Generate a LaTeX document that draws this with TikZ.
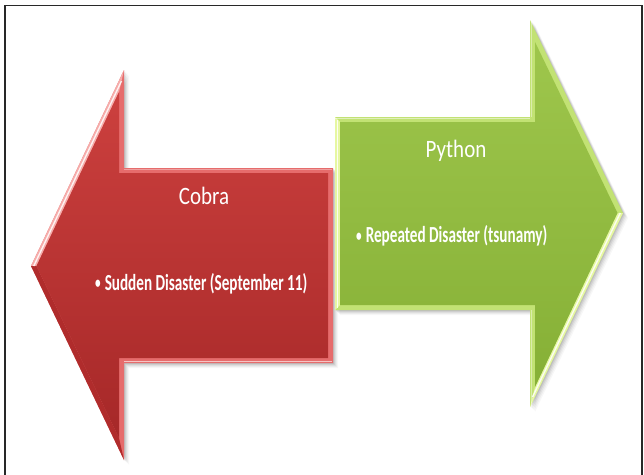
\documentclass[tikz,border=0pt]{standalone}
\usepackage{fontspec}
\usepackage{graphicx}
\usetikzlibrary{calc}
\setmainfont{Carlito}
\definecolor{redtop}{RGB}{204,64,62}
\definecolor{redbot}{RGB}{166,40,40}
\definecolor{redband}{RGB}{230,108,108}
\definecolor{redlight}{RGB}{246,172,170}
\definecolor{reddark}{RGB}{176,44,44}
\definecolor{greentop}{RGB}{158,198,76}
\definecolor{greenbot}{RGB}{134,176,54}
\definecolor{greenband}{RGB}{194,226,116}
\definecolor{greenlight}{RGB}{230,247,162}
\definecolor{framegray}{RGB}{40,40,40}
\tikzset{
  label text/.style={inner sep=0pt, text=white},
  title text/.style={label text, anchor=base, font=\fontsize{25}{30}\selectfont},
  item text/.style={label text, anchor=base west, font=\fontsize{23}{28}\selectfont\bfseries},
  shine/.style={white, line width=1.4pt, opacity=0.85, line join=round}
}
\newcommand{\titlebox}[1]{\scalebox{0.84}[1]{#1}}
\newcommand{\itembox}[1]{\scalebox{0.66}[1]{{\fontsize{17}{17}\selectfont\raisebox{1.5pt}{\textbullet}}\hspace{6pt}#1}}
\begin{document}
\begin{tikzpicture}[x=1pt,y=-1pt]
\useasboundingbox (0,0) rectangle (644,474);
\fill[white] (0,0) rectangle (644,474);
% outer frame (open at the bottom edge of the page)
\draw[framegray, line width=1.5pt] (5,480) -- (5,5.5) -- (642,5.5) -- (642,480);

% ---------------- red arrow pointing left ----------------
\coordinate (r1) at (31,266);   \coordinate (r2) at (124,70);
\coordinate (r3) at (124,168);  \coordinate (r4) at (333,168);
\coordinate (r5) at (333,363);  \coordinate (r6) at (124,363);
\coordinate (r7) at (124,460);
% bevel inset
\coordinate (q1) at (36.5,266); \coordinate (q2) at (119,92);
\coordinate (q3) at (119,173);  \coordinate (q4) at (328,173);
\coordinate (q5) at (328,358);  \coordinate (q6) at (119,358);
\coordinate (q7) at (119,438);
% soft shadow
\foreach \s/\o in {1/0.08,2/0.07,3/0.05,4/0.04,5/0.03}
  \fill[black, opacity=\o] ([shift={(\s,\s)}]r1) -- ([shift={(\s,\s)}]r2) -- ([shift={(\s,\s)}]r3)
    -- ([shift={(\s,\s)}]r4) -- ([shift={(\s,\s)}]r5) -- ([shift={(\s,\s)}]r6) -- ([shift={(\s,\s)}]r7) -- cycle;
\fill[redband] (r1) -- (r2) -- (r3) -- (r4) -- (r5) -- (r6) -- (r7) -- cycle;
\fill[redlight] (r1) -- (r2) -- (q2) -- (q1) -- cycle;
\fill[reddark] (r7) -- (r1) -- (q1) -- (q7) -- cycle;
\shade[top color=redtop, bottom color=redbot]
  (q1) -- (q2) -- (q3) -- (q4) -- (q5) -- (q6) -- (q7) -- cycle;
\draw[shine] ($(r1)!0.5!(q1)$) -- ($(r2)!0.5!(q2)$);
\draw[shine, opacity=0.6] ([shift={(0,-1.5)}]r6) -- ([shift={(-1.5,-1.5)}]r5);
\draw[shine, opacity=0.35] ([shift={(0,1.5)}]r3) -- ([shift={(-1.5,1.5)}]r4);

% ---------------- green arrow pointing right ----------------
\coordinate (g1) at (335,117);  \coordinate (g2) at (530,117);
\coordinate (g3) at (530,20);   \coordinate (g4) at (623,213);
\coordinate (g5) at (530,407);  \coordinate (g6) at (530,310);
\coordinate (g7) at (335,310);
% bevel inset
\coordinate (h1) at (340,122);  \coordinate (h2) at (535,122);
\coordinate (h3) at (535,42);   \coordinate (h4) at (617.5,213);
\coordinate (h5) at (535,387);  \coordinate (h6) at (535,305);
\coordinate (h7) at (340,305);
\foreach \s/\o in {1/0.08,2/0.07,3/0.05,4/0.04,5/0.03}
  \fill[black, opacity=\o] ([shift={(\s,\s)}]g1) -- ([shift={(\s,\s)}]g2) -- ([shift={(\s,\s)}]g3)
    -- ([shift={(\s,\s)}]g4) -- ([shift={(\s,\s)}]g5) -- ([shift={(\s,\s)}]g6) -- ([shift={(\s,\s)}]g7) -- cycle;
\fill[greenband] (g1) -- (g2) -- (g3) -- (g4) -- (g5) -- (g6) -- (g7) -- cycle;
\fill[greenlight] (g4) -- (g5) -- (h5) -- (h4) -- cycle;
\fill[greenlight] (g7) -- (g1) -- (h1) -- (h7) -- cycle;
\shade[top color=greentop, bottom color=greenbot]
  (h1) -- (h2) -- (h3) -- (h4) -- (h5) -- (h6) -- (h7) -- cycle;
\draw[shine] ($(g4)!0.5!(h4)$) -- ($(g5)!0.5!(h5)$);
\draw[shine] ($(g7)!0.5!(h7)$) -- ($(g1)!0.5!(h1)$);
\draw[shine, opacity=0.5] ([shift={(0,1.5)}]g1) -- ([shift={(0,1.5)}]g2);
\draw[shine, opacity=0.4] ([shift={(1.5,0)}]g3) -- ([shift={(1.5,0)}]g2);
\draw[shine, opacity=0.4] ([shift={(1.5,0)}]g6) -- ([shift={(1.5,0)}]g5);

% ---------------- labels ----------------
\node[title text] (cobra) at (204,204) {\titlebox{Cobra}};
\node[item text] (sudden) at (95,290) {\itembox{Sudden Disaster (September 11)}};
\node[title text] (python) at (456,157.5) {\titlebox{Python}};
\node[item text] (repeated) at (356,242.5) {\itembox{Repeated Disaster (tsunamy)}};
\end{tikzpicture}
\end{document}
